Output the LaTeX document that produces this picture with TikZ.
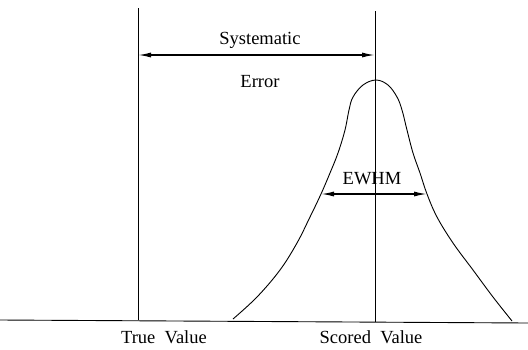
\documentclass[tikz,border=0pt]{standalone}
\usepackage{fontspec}
\setmainfont{Liberation Serif}
\usetikzlibrary{arrows.meta}
\begin{document}
\begin{tikzpicture}[x=1pt,y=-1pt,
  lbl/.style={font=\fontsize{18.5}{20}\selectfont, inner sep=0pt},
  thin line/.style={line width=0.9pt},
  dimarrow/.style={line width=1.4pt, {Latex[length=13pt,width=5pt]}-{Latex[length=13pt,width=5pt]}}]
\useasboundingbox (0,0) rectangle (528,349);
% coordinates
\coordinate (base L) at (0,320);
\coordinate (base R) at (528,323);
\coordinate (true top) at (138,8);
\coordinate (true bot) at (138,320);
\coordinate (score top) at (375,11);
\coordinate (score bot) at (375,322);
\coordinate (sysL) at (138,55);
\coordinate (sysR) at (375,55);
\coordinate (fwL) at (321,194);
\coordinate (fwR) at (427,194);
% lines
\draw[thin line] (base L) -- (base R);
\draw[thin line] (true top) -- (true bot);
\draw[thin line] (score top) -- (score bot);
% curve
\draw[thin line] plot[smooth, tension=0.6] coordinates {
  (233,319) (257,297) (280,270) (297,243) (310,217) (321,194) (330,173) (338,153)
  (345,130) (349,110) (353,97) (363,85) (376,80)
  (388,85) (397,97) (402,110) (407,130) (413,153) (420,173) (427,194)
  (437,217) (453,243) (473,270) (493,297) (512,321)};
% arrows
\draw[dimarrow] (sysL) -- (sysR);
\draw[dimarrow] (fwL) -- (fwR);
% labels
\node[lbl] (sys) at (260,40) {Systematic};
\node[lbl] (err) at (260,82) {Error};
\node[lbl] (ewhm) at (372,179) {EWHM};
\node[lbl] (tv) at (164,337) {True\hspace{0.5em}Value};
\node[lbl] (sv) at (371,337) {Scored\hspace{0.5em}Value};
\end{tikzpicture}
\end{document}
